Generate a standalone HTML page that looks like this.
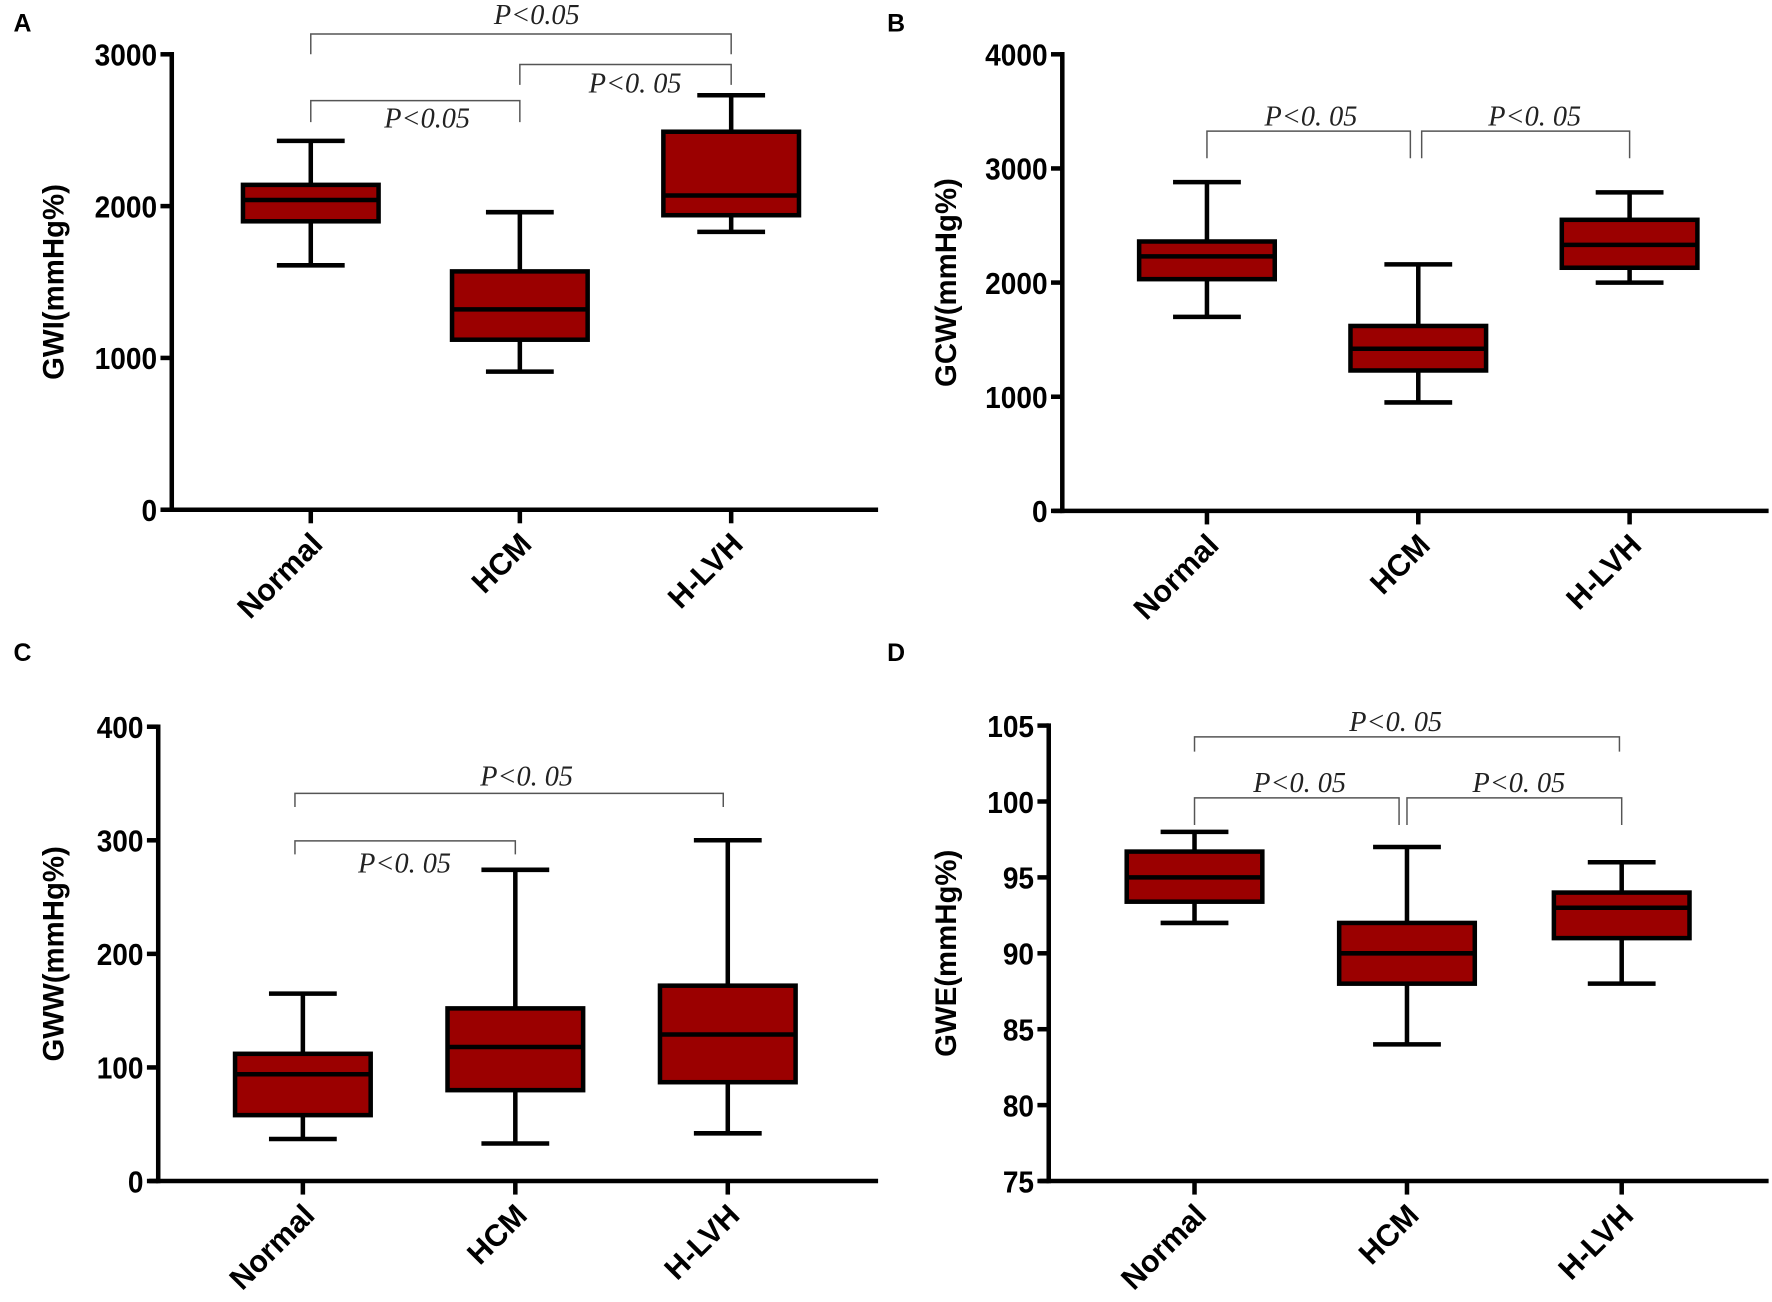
<!DOCTYPE html>
<html><head><meta charset="utf-8">
<style>
html,body{margin:0;padding:0;background:#fff}
svg{display:block}
</style></head>
<body>
<svg id="fig" width="1772" height="1302" viewBox="0 0 1568 1152" xmlns="http://www.w3.org/2000/svg" font-family="Liberation Sans, sans-serif"></svg>
<script>
const categories = ["Normal","HCM","H-LVH"];
// [min, q1, median, q3, max]
const gwiValues = [[1610,1900,2040,2140,2430],[910,1120,1320,1570,1960],[1830,1940,2070,2490,2730]];
const gcwValues = [[1700,2030,2230,2360,2880],[950,1230,1420,1620,2160],[2000,2130,2330,2550,2790]];
const gwwValues = [[37,58,94,112,165],[33,80,118,152,274],[42,87,129,172,300]];
const gweValues = [[92,93.4,95,96.7,98],[84,88,90,92,97],[88,91,93,94,96]];
const gwiTicks = [0,1000,2000,3000];
const gcwTicks = [0,1000,2000,3000,4000];
const gwwTicks = [0,100,200,300,400];
const gweTicks = [75,80,85,90,95,100,105];

const NS="http://www.w3.org/2000/svg";
const svg=document.getElementById('fig');
function mk(tag,attrs,parent){const e=document.createElementNS(NS,tag);for(const k in attrs)e.setAttribute(k,attrs[k]);(parent||svg).appendChild(e);return e;}

const panels=[
 {id:'a',letter:'A',lx:12,ly:28,ax:152,top:48,bot:451,right:777,cx:[275,460,647],min:0,max:3000,ticks:gwiTicks,vals:gwiValues,title:'GWI(mmHg%)',tx:56,
  br:[{a:0,b:2,y:30,d:48,t:'P<0.05',tx:475,ty:21},{a:1,b:2,y:57,d:75,t:'P<0. 05',tx:562,ty:82},{a:0,b:1,y:89,d:108,t:'P<0.05',tx:378,ty:113}]},
 {id:'b',letter:'B',lx:785,ly:28,ax:940,top:48,bot:452,right:1565,cx:[1068,1255,1442],min:0,max:4000,ticks:gcwTicks,vals:gcwValues,title:'GCW(mmHg%)',tx:846,
  br:[{a:0,b:1,y:116,d:140,t:'P<0. 05',tx:1160,ty:111,bo:-7},{a:1,b:2,y:116,d:140,t:'P<0. 05',tx:1358,ty:111,ao:3}]},
 {id:'c',letter:'C',lx:12,ly:585,ax:140,top:643,bot:1045,right:777,cx:[268,456,644],min:0,max:400,ticks:gwwTicks,vals:gwwValues,title:'GWW(mmHg%)',tx:56,
  br:[{a:0,b:2,y:702,d:714,t:'P<0. 05',tx:466,ty:695,ao:-7,bo:-4},{a:0,b:1,y:744,d:756,t:'P<0. 05',tx:358,ty:772,ao:-7}]},
 {id:'d',letter:'D',lx:785,ly:585,ax:928,top:642,bot:1045,right:1565,cx:[1057,1245,1435],min:75,max:105,ticks:gweTicks,vals:gweValues,title:'GWE(mmHg%)',tx:846,
  br:[{a:0,b:2,y:652,d:665,t:'P<0. 05',tx:1235,ty:647,bo:-2},{a:0,b:1,y:706,d:730,t:'P<0. 05',tx:1150,ty:701,bo:-7},{a:1,b:2,y:706,d:730,t:'P<0. 05',tx:1344,ty:701,ao:0}]}
];

panels.forEach(p=>{
  const g=mk('g',{});
  
  
  const y=v=>p.bot-(v-p.min)/(p.max-p.min)*(p.bot-p.top);
  const L=mk('text',{x:p.lx,y:p.ly,'font-size':22,'font-weight':'bold'},g);L.textContent=p.letter;
  
  
  const ya=mk('line',{x1:p.ax,y1:p.top-2,x2:p.ax,y2:p.bot+2,stroke:'#000','stroke-width':4},g);
  
  
  const xa=mk('line',{x1:p.ax-8,y1:p.bot,x2:p.right,y2:p.bot,stroke:'#000','stroke-width':4},g);
  
  
  p.ticks.forEach(t=>{
    mk('line',{x1:p.ax-10,y1:y(t),x2:p.ax,y2:y(t),stroke:'#000','stroke-width':4},g);
    const tl=mk('text',{x:p.ax-13,y:y(t)+10,'font-size':27,'font-weight':'bold','text-anchor':'end',transform:`translate(${(p.ax-13)*0.08},0) scale(0.92,1)`},g);
    tl.textContent=t;
    
    
  });
  const yt=mk('text',{transform:`translate(${p.tx},${(p.top+p.bot)/2}) rotate(-90)`,'font-size':26,'font-weight':'bold','text-anchor':'middle'},g);
  yt.textContent=p.title;
  
  
  categories.forEach((c,i)=>{
    const x=p.cx[i];
    mk('line',{x1:x,y1:p.bot,x2:x,y2:p.bot+12,stroke:'#000','stroke-width':4},g);
    const cl=mk('text',{transform:`translate(${x+12},${p.bot+32}) rotate(-45)`,'font-size':27,'font-weight':'bold','text-anchor':'end'},g);
    cl.textContent=c;
    
    
    const v=p.vals[i];
    const bg=mk('g',{},g);
    
    
    mk('line',{x1:x,y1:y(v[0]),x2:x,y2:y(v[4]),stroke:'#000','stroke-width':4},bg);
    mk('line',{x1:x-30,y1:y(v[0]),x2:x+30,y2:y(v[0]),stroke:'#000','stroke-width':4},bg);
    mk('line',{x1:x-30,y1:y(v[4]),x2:x+30,y2:y(v[4]),stroke:'#000','stroke-width':4},bg);
    mk('rect',{x:x-60,y:y(v[3]),width:120,height:y(v[1])-y(v[3]),fill:'#9b0000',stroke:'#000','stroke-width':4},bg);
    mk('line',{x1:x-60,y1:y(v[2]),x2:x+60,y2:y(v[2]),stroke:'#000','stroke-width':4},bg);
  });
  p.br.forEach(b=>{
    const x1=p.cx[b.a]+(b.ao||0), x2=p.cx[b.b]+(b.bo||0);
    const br=mk('polyline',{points:`${x1},${b.d} ${x1},${b.y} ${x2},${b.y} ${x2},${b.d}`,fill:'none',stroke:'#555','stroke-width':1.3},g);
    
    
    const t=mk('text',{x:b.tx,y:b.ty,'font-size':25,'font-style':'italic','text-anchor':'middle','font-family':'Liberation Serif, serif',fill:'#222'},g);
    t.textContent=b.t;
    
    
  });
});
</script>
</body></html>
